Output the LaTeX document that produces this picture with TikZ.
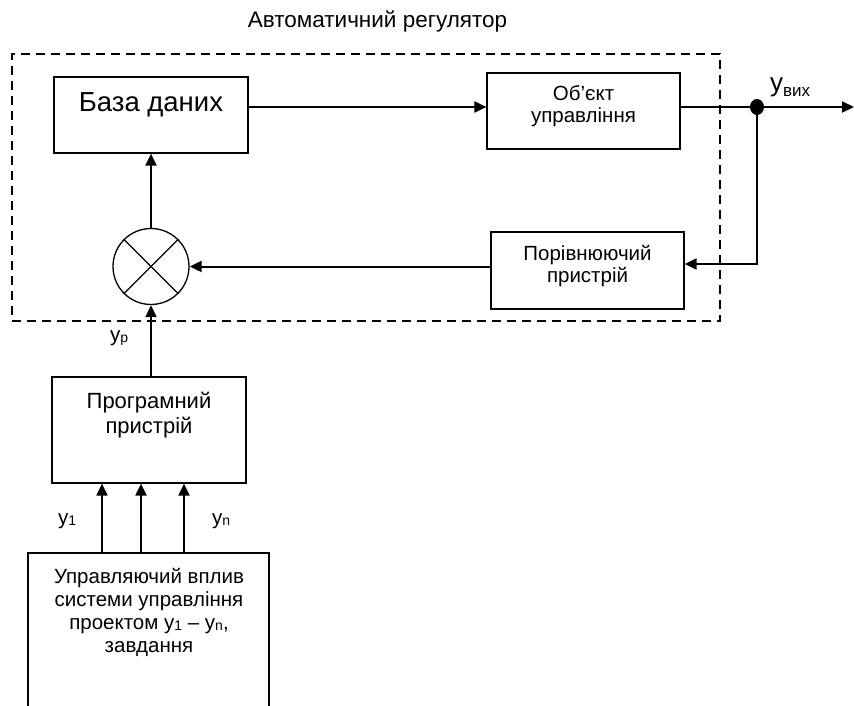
\documentclass[tikz,border=0pt]{standalone}
\usepackage{fontspec}
\setmainfont{Liberation Sans}
\usepackage{tikz}
\usetikzlibrary{arrows.meta, shapes.geometric, calc}
\newcommand{\lowidx}[1]{\raisebox{-1.5pt}{\fontsize{14pt}{14pt}\selectfont #1}}

\begin{document}
\begin{tikzpicture}[
    x=1pt, y=-1pt,
    block/.style={draw, line width=1.2pt, inner sep=0pt},
    txt/.style={font=\fontsize{20.5pt}{22pt}\selectfont, align=center, anchor=base, inner sep=0pt},
    sig/.style={-{Triangle[length=12pt,width=11pt]}, line width=2pt},
    frame/.style={draw, line width=1.4pt, dash pattern=on 9pt off 6pt, inner sep=0pt},
    summer/.style={circle, draw, line width=1.3pt, minimum size=76pt, inner sep=0pt},
    dot/.style={ellipse, fill, minimum width=14pt, minimum height=16pt, inner sep=0pt}
]
    \useasboundingbox (0,0) rectangle (854,706);
    \clip (0,0) rectangle (854,706);

    % Regulator frame
    \node[frame, minimum width=708pt, minimum height=267pt] (reg) at (366,187.5) {};
    \node[txt, font=\fontsize{22.5pt}{24pt}\selectfont] (reg-t) at (377.5,28) {Автоматичний регулятор};

    % Blocks
    \node[block, minimum width=194pt, minimum height=76pt] (dbase) at (151,115) {};
    \node[block, minimum width=193pt, minimum height=76pt] (objct) at (583.5,111) {};
    \node[block, minimum width=193pt, minimum height=77pt] (cmpr) at (587.5,270.5) {};
    \node[summer] (sum) at (151,266.5) {};
    \node[block, minimum width=194pt, minimum height=106pt] (prog) at (149,430) {};
    \node[block, minimum width=241pt, minimum height=174pt] (ctrl) at (148.5,640) {};

    % Texts in blocks (base = last line)
    \node[txt, font=\fontsize{27.5pt}{30pt}\selectfont] (dbase-t) at (151,112) {База даних};
    \node[txt] (objct-t) at (583.5,123) {Об’єкт\\управління};
    \node[txt] (cmpr-t) at (587.5,282) {Порівнюючий\\пристрій};
    \node[txt, font=\fontsize{22pt}{25pt}\selectfont] (prog-t) at (149,433) {Програмний\\пристрій};
    \node[txt, font=\fontsize{20.5pt}{23pt}\selectfont] (ctrl-t) at (149,652)
        {Управляючий вплив\\системи управління\\проектом y\lowidx{1} – y\lowidx{n},\\завдання};

    % Signal labels
    \node[txt, anchor=base west] (yp) at (110,341) {y\lowidx{р}};
    \node[txt, anchor=base west] (y1) at (58,524) {y\lowidx{1}};
    \node[txt, anchor=base west] (yn) at (212,524) {y\lowidx{n}};
    \node[txt, anchor=base west, font=\fontsize{26pt}{26pt}\selectfont] (yout-t) at (770,92)
        {y\raisebox{-5pt}{\fontsize{17pt}{17pt}\selectfont вих}};

    % Junction and free ends
    \coordinate (yout) at (854,107);
    \coordinate (fbk) at (757,264);
    \node[dot] (junc) at (757,107) {};

    % Connections
    \draw[sig] (dbase.east |- junc) -- (objct.west |- junc);
    \draw[line width=2pt] (objct.east |- junc) -- (junc);
    \draw[sig] (junc) -- (yout);
    \draw[sig] (junc) -- (fbk) -- (cmpr.east |- fbk);
    \draw[sig] (cmpr.west |- sum) -- (sum.east);
    \draw[sig] (sum.north) -- (dbase.south -| sum);
    \draw[sig] (prog.north -| sum) -- (sum.south);
    \foreach \xx in {102,141,184}
        \draw[sig] (ctrl.north -| \xx,0) -- (prog.south -| \xx,0);

    % Cross in the summing node
    \draw[line width=1.3pt] (sum.north west) -- (sum.south east);
    \draw[line width=1.3pt] (sum.north east) -- (sum.south west);
\end{tikzpicture}
\end{document}
